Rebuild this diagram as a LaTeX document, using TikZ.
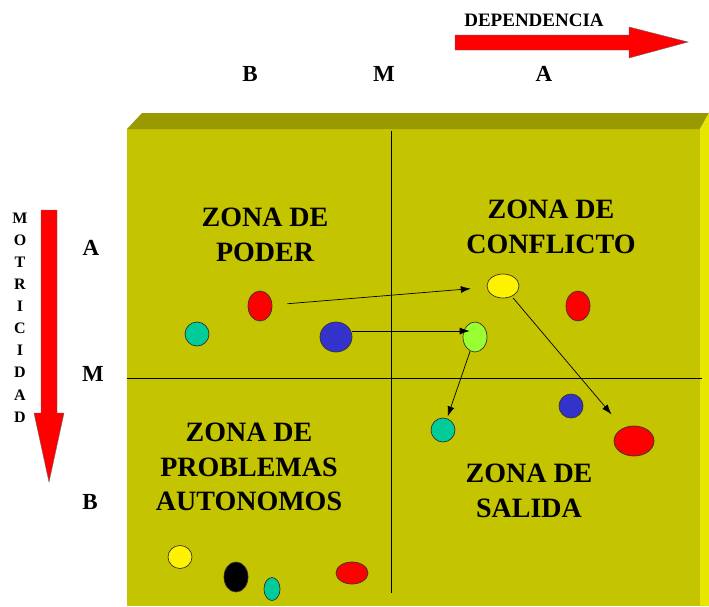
\documentclass[tikz,border=0pt]{standalone}
\usepackage{fontspec}
\setmainfont{Liberation Serif}
\usetikzlibrary{shapes.geometric, arrows.meta}
\definecolor{facefront}{HTML}{C4C400}
\definecolor{facetop}{HTML}{999900}
\definecolor{faceside}{HTML}{E6E600}
\definecolor{tealdot}{HTML}{00CC99}
\definecolor{bluedot}{HTML}{3333CC}
\definecolor{limedot}{HTML}{99FF33}
\tikzset{
dot/.style={ % Sets the properties for each variable
ellipse, draw=black!80, line width=0.7pt, inner sep=0pt},
zone/.style={ % Quadrant titles
font=\fontsize{28}{34.5}\selectfont\bfseries, align=center, inner sep=0pt},
level/.style={font=\fontsize{23}{26}\selectfont\bfseries, inner sep=0pt},
link/.style={ % Displacement of a variable
draw,-{Latex[length=10pt,width=7pt]},line width=0.7pt},
bigarrow/.style={fill=red, draw=black!60, thin}}

\begin{document}
\begin{tikzpicture}[x=1pt, y=-1pt]
    \useasboundingbox (0,0) rectangle (709,606);

    % box
    \fill[facefront] (127,129) rectangle (700,606);
    \fill[facetop] (127,129) -- (142,113) -- (709,113) -- (700,129) -- cycle;
    \fill[faceside] (700,129) -- (709,113) -- (709,606) -- (700,606) -- cycle;
    \draw[line width=0.7pt] (391,131) -- (391,593);
    \draw[line width=0.7pt] (127,378) -- (702,378);

    % axes
    \draw[bigarrow] (455,35) -- (629,35) -- (629,27) -- (688,42) -- (629,58) -- (629,50) -- (455,50) -- cycle;
    \draw[bigarrow] (41,210) -- (57,210) -- (57,413) -- (64,413) -- (49,482) -- (34,413) -- (41,413) -- cycle;
    \node[font=\fontsize{19}{22}\selectfont\bfseries, inner sep=0pt] (dep) at (534,20) {DEPENDENCIA};
    \foreach \ch [count=\i] in {M,O,T,R,I,C,I,D,A,D}
        \node[font=\fontsize{16}{18}\selectfont\bfseries, inner sep=0pt] (mot\i) at (20,{218+22.1*(\i-1)}) {\ch};

    \node[level] (xb) at (250,74) {B};
    \node[level] (xm) at (384,74) {M};
    \node[level] (xa) at (544,74) {A};
    \node[level] (ya) at (91,248) {A};
    \node[level] (ym) at (93,374) {M};
    \node[level] (yb) at (90,502) {B};

    \node[zone] (poder) at (265,235) {ZONA DE\\PODER};
    \node[zone] (conflicto) at (551,227) {ZONA DE\\CONFLICTO};
    \node[zone] (autonomos) at (249,467) {ZONA DE\\PROBLEMAS\\AUTONOMOS};
    \node[zone] (salida) at (529,491) {ZONA DE\\SALIDA};

    % variables
    \node[dot, fill=tealdot, minimum width=24, minimum height=24] (p1) at (197,334) {};
    \node[dot, fill=red, minimum width=24, minimum height=30] (p2) at (260,306) {};
    \node[dot, fill=bluedot, minimum width=32, minimum height=30] (p3) at (336,337) {};
    \node[dot, fill=yellow, minimum width=32, minimum height=24] (c1) at (503,286) {};
    \node[dot, fill=limedot, minimum width=24, minimum height=30] (c2) at (475,337) {};
    \node[dot, fill=red, minimum width=24, minimum height=30] (c3) at (578,306) {};
    \node[dot, fill=bluedot, minimum width=24, minimum height=24] (s1) at (571,406) {};
    \node[dot, fill=tealdot, minimum width=24, minimum height=24] (s2) at (443,430) {};
    \node[dot, fill=red, minimum width=40, minimum height=30] (s3) at (634,441) {};
    \node[dot, fill=yellow, minimum width=24, minimum height=23] (a1) at (180,557) {};
    \node[dot, fill=black, minimum width=24, minimum height=30] (a2) at (236,577) {};
    \node[dot, fill=tealdot, minimum width=16, minimum height=23] (a3) at (272,589) {};
    \node[dot, fill=red, minimum width=32, minimum height=22] (a4) at (352,573) {};

    \draw[link, shorten <=15pt, shorten >=16pt] (p2) -- (c1);
    \draw[link] ([yshift=6pt]p3.east) -- ([xshift=7pt,yshift=6pt]c2.west);
    \draw[link, shorten >=2pt] (c2) -- (s2);
    \draw[link, shorten <=2pt, shorten >=18pt] (c1) -- (s3);

\end{tikzpicture}
\end{document}
